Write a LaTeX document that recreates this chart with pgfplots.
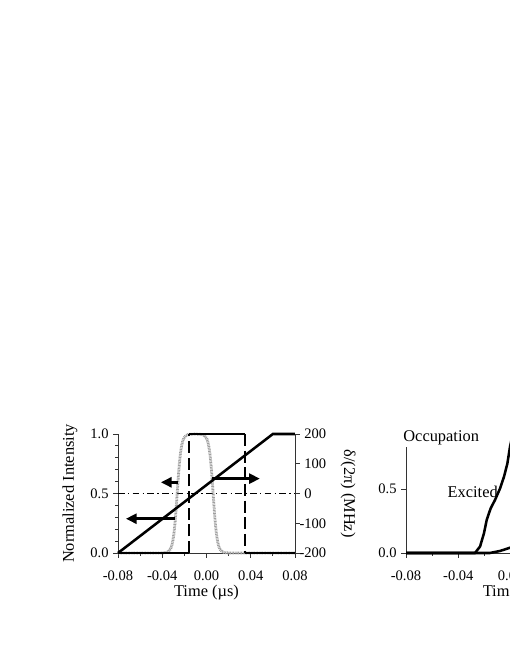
\documentclass[border=0pt]{standalone}
\usepackage{fontspec}
\setmainfont{Liberation Serif}
\usepackage{pgfplots}
\pgfplotsset{compat=1.18}
\usetikzlibrary{arrows.meta}

\pgfplotsset{
  myax/.style={
    scale only axis,
    tick align=outside,
    major tick length=3.5pt,
    minor tick length=2pt,
    axis line style={black!80, line width=0.6pt, -},
    every tick/.style={black!80, line width=0.6pt},
    tick label style={font=\fontsize{10.9}{12}\selectfont},
    xticklabel style={yshift=-6pt},
    label style={font=\fontsize{12.3}{14}\selectfont},
    scaled x ticks=false, scaled y ticks=false,
    clip=false,
  }
}

\begin{document}
\begin{tikzpicture}
\useasboundingbox (0,0) rectangle (382.5pt,495pt);
\clip (0,0) rectangle (382.5pt,495pt);

% ---------- Left panel, left axis (normalized intensity) ----------
\begin{axis}[myax,
  at={(88.5pt,80.25pt)}, anchor=south west,
  width=132.75pt, height=89.25pt,
  xmin=-0.08, xmax=0.08, ymin=0, ymax=1,
  axis x line*=bottom, axis y line*=left,
  xtick={-0.08,-0.04,0,0.04,0.08},
  xticklabels={-0.08,-0.04,0.00,0.04,0.08},
  minor x tick num=1,
  ytick={0,0.5,1}, yticklabels={0.0,0.5,1.0},
  minor y tick num=4,
  xlabel={Time (µs)},
  xlabel style={at={(axis description cs:0.5,-0.335)}, anchor=center},
  ylabel={Normalized Intensity},
  ylabel style={at={(axis description cs:-0.271,0.5)}, anchor=center},
]
% dash-dot zero-detuning line
\addplot[black, line width=0.6pt, dash pattern=on 5pt off 2.5pt on 1pt off 2.5pt]
  coordinates {(-0.08,0.5) (0.08,0.5)};
% smooth (gray dotted) pulse
\addplot[gray!75, line width=2.1pt, dash pattern=on 0.7pt off 0.5pt] coordinates {
(-0.080,0) (-0.040,0) (-0.0365,0.004) (-0.0345,0.012) (-0.0325,0.034)
(-0.0315,0.058) (-0.0305,0.098) (-0.0295,0.159) (-0.0285,0.248)
(-0.0275,0.365) (-0.0265,0.5) (-0.0255,0.635) (-0.0245,0.752)
(-0.0235,0.841) (-0.0225,0.902) (-0.0215,0.942) (-0.0205,0.966)
(-0.0185,0.988) (-0.0165,0.996) (-0.0100,1.0) (-0.0040,0.996)
(-0.0020,0.988) (0.0000,0.966) (0.0010,0.942) (0.0020,0.902)
(0.0030,0.841) (0.0040,0.752) (0.0050,0.635) (0.0060,0.5)
(0.0070,0.365) (0.0080,0.248) (0.0090,0.159) (0.0100,0.098)
(0.0110,0.058) (0.0120,0.034) (0.0140,0.012) (0.0160,0.004)
(0.0200,0) (0.0800,0)};
% square pulse (dashed edges)
\addplot[black, line width=1.9pt] coordinates {(-0.08,0) (-0.016,0)};
\addplot[black, line width=1.9pt] coordinates {(-0.016,1) (0.035,1)};
\addplot[black, line width=1.9pt] coordinates {(0.035,0) (0.08,0)};
\addplot[black, line width=1.9pt, dash pattern=on 9pt off 3.5pt] coordinates {(-0.016,0) (-0.016,1)};
\addplot[black, line width=1.9pt, dash pattern=on 9pt off 3.5pt] coordinates {(0.035,1) (0.035,0)};
% arrows
\addplot[black, line width=1.9pt, -{Triangle[length=8pt,width=7.5pt]}]
  coordinates {(-0.0256,0.594) (-0.0412,0.594)};
\addplot[black, line width=1.9pt, -{Triangle[length=8pt,width=7.5pt]}]
  coordinates {(-0.0286,0.288) (-0.0728,0.288)};
\addplot[black, line width=1.9pt, -{Triangle[length=8pt,width=7.5pt]}]
  coordinates {(0.0050,0.625) (0.0482,0.625)};
\end{axis}

% ---------- Left panel, right axis (detuning) ----------
\begin{axis}[myax,
  at={(88.5pt,80.25pt)}, anchor=south west,
  width=132.75pt, height=89.25pt,
  xmin=-0.08, xmax=0.08, ymin=-200, ymax=200,
  axis y line*=right, axis x line=none,
  ytick={-200,-100,0,100,200},
  yticklabels={\llap{-}200,\llap{-}100,0,100,200},
  yticklabel style={anchor=west},
  ylabel={δ/(2π) (MHz)},
  ylabel style={at={(axis description cs:1.30,0.5)}, anchor=center, rotate=180},
]
\addplot[black, line width=1.9pt] coordinates {(-0.08,-200) (0.06,200) (0.08,200)};
\end{axis}

% ---------- Right panel (occupation) ----------
\begin{axis}[myax,
  at={(304.5pt,80.25pt)}, anchor=south west,
  width=163.8pt, height=79.5pt,
  xmin=-0.08, xmax=0.087, ymin=0, ymax=0.83,
  axis x line*=bottom, axis y line*=left,
  xtick={-0.08,-0.04,0,0.04,0.08},
  xticklabels={-0.08,-0.04,0.00,0.04,0.08},
  minor x tick num=1,
  ytick={0,0.5}, yticklabels={0.0,0.5},
  xlabel={Time (µs)},
  xlabel style={at={(axis description cs:0.5,-0.376)}, anchor=center},
]
\addplot[black, line width=1.9pt] coordinates {
(-0.08,0) (-0.0273,0) (-0.0234,0.05) (-0.0204,0.154) (-0.0183,0.258)
(-0.0153,0.349) (-0.0120,0.414) (-0.0081,0.505) (-0.0051,0.596)
(-0.0025,0.70) (-0.0005,0.83) (0.003,1.0)};
\addplot[black, line width=1.9pt] coordinates {
(-0.08,0) (-0.0158,0) (-0.0081,0.016) (-0.0005,0.041) (0.005,0.07)};
\node[anchor=west, font=\fontsize{12.3}{14}\selectfont, xshift=-3pt] at (axis cs:-0.0487,0.477) {Excited};
\node[anchor=west, font=\fontsize{12.3}{14}\selectfont, xshift=-5.5pt, yshift=6.75pt] at (rel axis cs:0,1) {Occupation};
\end{axis}
\end{tikzpicture}
\end{document}
